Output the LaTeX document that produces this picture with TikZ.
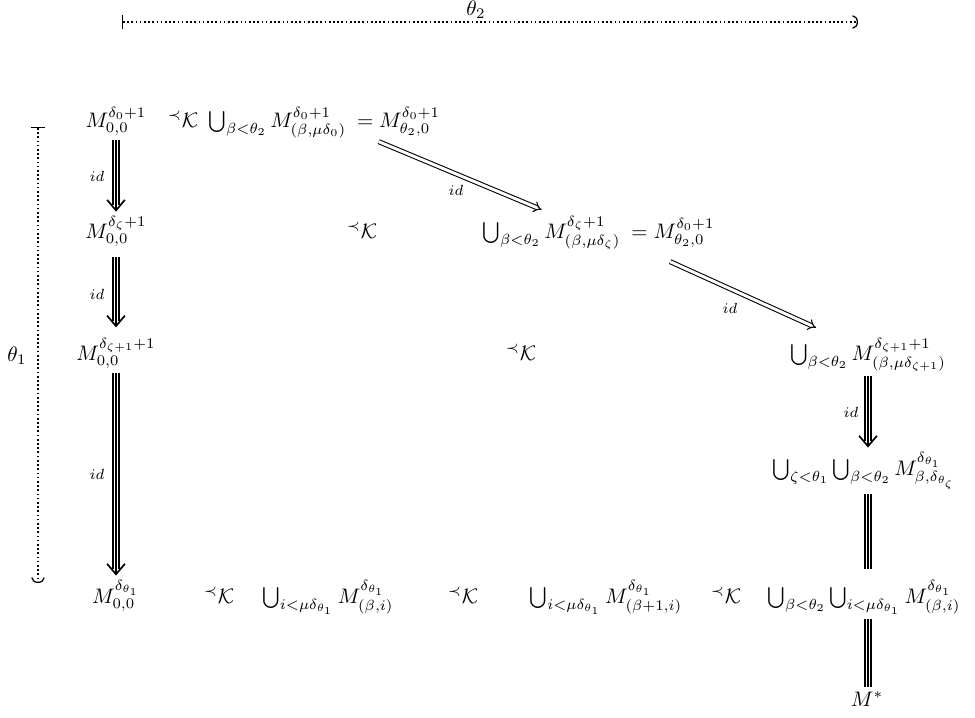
\documentclass[tikz,border=0pt]{standalone}
\usetikzlibrary{arrows.meta,calc}
\begin{document}
\begin{tikzpicture}[x=0.476pt,y=-0.476pt,
  obj/.style={anchor=base,inner sep=2pt},
  objw/.style={anchor=base west,inner sep=2pt},
  lab/.style={inner sep=0pt,font=\scriptsize},
  dotline/.style={line width=0.8pt,dash pattern=on 0.8pt off 1.2pt},
  measure/.style={dotline,{Bar[width=7pt,line width=0.6pt]}-{Arc Barb[length=2.6pt,width=6.5pt,line width=0.6pt]}},
  tshaft/.style={double,double distance=1.8pt,line width=1pt,shorten >=3pt},
  tcenter/.style={line width=1pt,-{Straight Barb[length=5pt,width=8.5pt,line width=0.8pt]}},
  tline/.style={double,double distance=1.8pt,line width=1pt,postaction={draw,line width=1pt}},
  darrow/.style={double,double distance=1.4pt,line width=0.5pt,-{Implies[]}}]
\useasboundingbox (0,0) rectangle (975,717);
% measure bars
\coordinate (t0) at (122,22);
\coordinate (t1) at (858,22);
\draw[measure] (t0) -- (t1);
\node[inner sep=0pt] (th2) at (476,10) {$\theta_2$};
\coordinate (l0) at (38,127);
\coordinate (l1) at (38,583);
\draw[measure] (l0) -- (l1);
\node[inner sep=0pt] (th1) at (17,356) {$\theta_1$};
% row 1
\node[obj] (A1) at (116,127) {$M_{0,0}^{\delta_0+1}$};
\node[obj] (K1) at (183,127) {$^{\prec}\mathcal{K}$};
\node[objw] (L1a) at (204,127) {$\bigcup_{\beta<\theta_2} M^{\delta_0+1}_{(\beta,\mu\delta_0)}$};
\node[anchor=base west,inner sep=0pt] (L1b) at (L1a.base east) {${}= M^{\delta_0+1}_{\theta_2,0}$};
% row 2
\node[obj] (A2) at (116,238) {$M_{0,0}^{\delta_\zeta+1}$};
\node[obj] (K2) at (362,238) {$^{\prec}\mathcal{K}$};
\node[objw] (L2a) at (478,238) {$\bigcup_{\beta<\theta_2} M^{\delta_\zeta+1}_{(\beta,\mu\delta_\zeta)}$};
\node[anchor=base west,inner sep=0pt] (L2b) at (L2a.base east) {${}= M^{\delta_0+1}_{\theta_2,0}$};
% row 3
\node[obj] (A3) at (116,360) {$M_{0,0}^{\delta_{\zeta+1}+1}$};
\node[obj] (K3) at (521,360) {$^{\prec}\mathcal{K}$};
\node[obj] (L3) at (868,360) {$\bigcup_{\beta<\theta_2} M^{\delta_{\zeta+1}+1}_{(\beta,\mu\delta_{\zeta+1})}$};
% row 4
\node[obj] (R4) at (864,475) {$\bigcup_{\zeta<\theta_1}\bigcup_{\beta<\theta_2} M^{\delta_{\theta_1}}_{\beta,\delta_{\theta_\zeta}}$};
% row 5
\node[obj] (A5) at (116,603) {$M_{0,0}^{\delta_{\theta_1}}$};
\node[obj] (K4) at (219,603) {$^{\prec}\mathcal{K}$};
\node[obj] (U1) at (328,603) {$\bigcup_{i<\mu\delta_{\theta_1}} M^{\delta_{\theta_1}}_{(\beta,i)}$};
\node[obj] (K5) at (463,603) {$^{\prec}\mathcal{K}$};
\node[obj] (U2) at (606,603) {$\bigcup_{i<\mu\delta_{\theta_1}} M^{\delta_{\theta_1}}_{(\beta+1,i)}$};
\node[obj] (K6) at (726,603) {$^{\prec}\mathcal{K}$};
\node[obj] (U3) at (864,603) {$\bigcup_{\beta<\theta_2}\bigcup_{i<\mu\delta_{\theta_1}} M^{\delta_{\theta_1}}_{(\beta,i)}$};
\node[obj] (Ms) at (867,706) {$M^*$};
% left column arrows
\draw[tshaft] (A1.south) -- (A2.north);
\draw[tcenter] (A1.south) -- (A2.north);
\draw[tshaft] ([yshift=-3pt]A2.south) -- ([yshift=3pt]A3.north);
\draw[tcenter] ([yshift=-3pt]A2.south) -- ([yshift=3pt]A3.north);
\draw[tshaft] (A3.south) -- (A5.north);
\draw[tcenter] (A3.south) -- (A5.north);
\node[lab] (id1) at (97,176) {$id$};
\node[lab] (id2) at (97,294) {$id$};
\node[lab] (id3) at (97,474) {$id$};
% diagonals
\draw[darrow] ($(L1b.south)+(-17,5)$) -- ($(L2a.north)+(-10,-2)$);
\node[lab] (id4) at (456,190) {$id$};
\draw[darrow] ($(L2b.south)+(0,14)$) -- ($(L3.north)+(-52,-6)$);
\node[lab] (id5) at (730,308) {$id$};
% right column
\draw[tshaft] (L3.south) -- (L3.south |- R4.north);
\draw[tcenter] (L3.south) -- (L3.south |- R4.north);
\node[lab] (id6) at (851,412) {$id$};
\draw[tline] (L3.south |- R4.south) -- ([yshift=3pt]L3.south |- U3.north);
\draw[tline] (L3.south |- U3.south) -- (L3.south |- Ms.north);
\end{tikzpicture}
\end{document}
